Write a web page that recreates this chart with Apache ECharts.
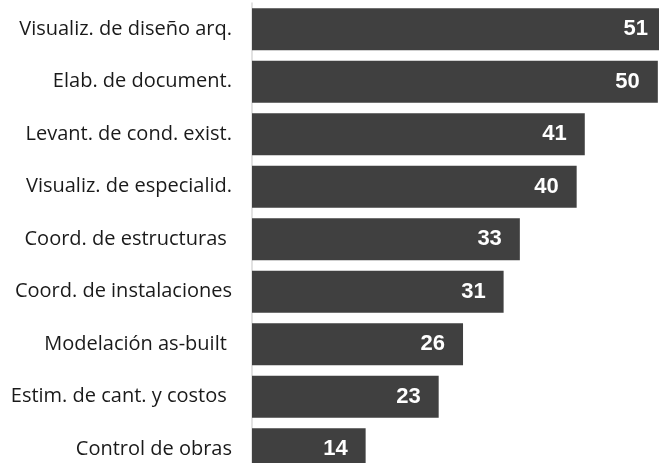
<!DOCTYPE html>
<html>
<head>
<meta charset="utf-8">
<script src="https://cdn.jsdelivr.net/npm/echarts@6/dist/echarts.min.js"></script>
<style>html,body{margin:0;padding:0;background:#fff;overflow:hidden;width:659px;height:463px;}#c{width:760px;height:520px;}</style>
</head>
<body>
<div id="c"></div>
<script>
var categories = ["Visualiz. de diseño arq.", "Elab. de document.", "Levant. de cond. exist.", "Visualiz. de especialid.", "Coord. de estructuras ", "Coord. de instalaciones", "Modelación as-built ", "Estim. de cant. y costos ", "Control de obras"];
var values = [51, 50, 41, 40, 33, 31, 26, 23, 14];

var chart = echarts.init(document.getElementById('c'), null, {renderer: 'canvas'});
chart.setOption({
  animation: false,
  grid: {left: 252, top: 3, width: 487, height: 472.5, containLabel: false},
  xAxis: {
    type: 'value', min: 0, max: 60, show: false
  },
  yAxis: {
    type: 'category', data: categories, inverse: true,
    axisLine: {show: true, lineStyle: {color: '#d9d9d9', width: 1.5}},
    axisTick: {show: false},
    axisLabel: {color: '#1a1a1a', fontSize: 20, fontFamily: 'Open Sans', margin: 20}
  },
  series: [{
    type: 'bar', data: values, barCategoryGap: '20%',
    itemStyle: {color: '#404040'},
    label: {show: true, position: 'insideRight', distance: 18, color: '#fff', fontWeight: 'bold', fontSize: 22, fontFamily: 'Liberation Sans'}
  }]
});
</script>
</body>
</html>
